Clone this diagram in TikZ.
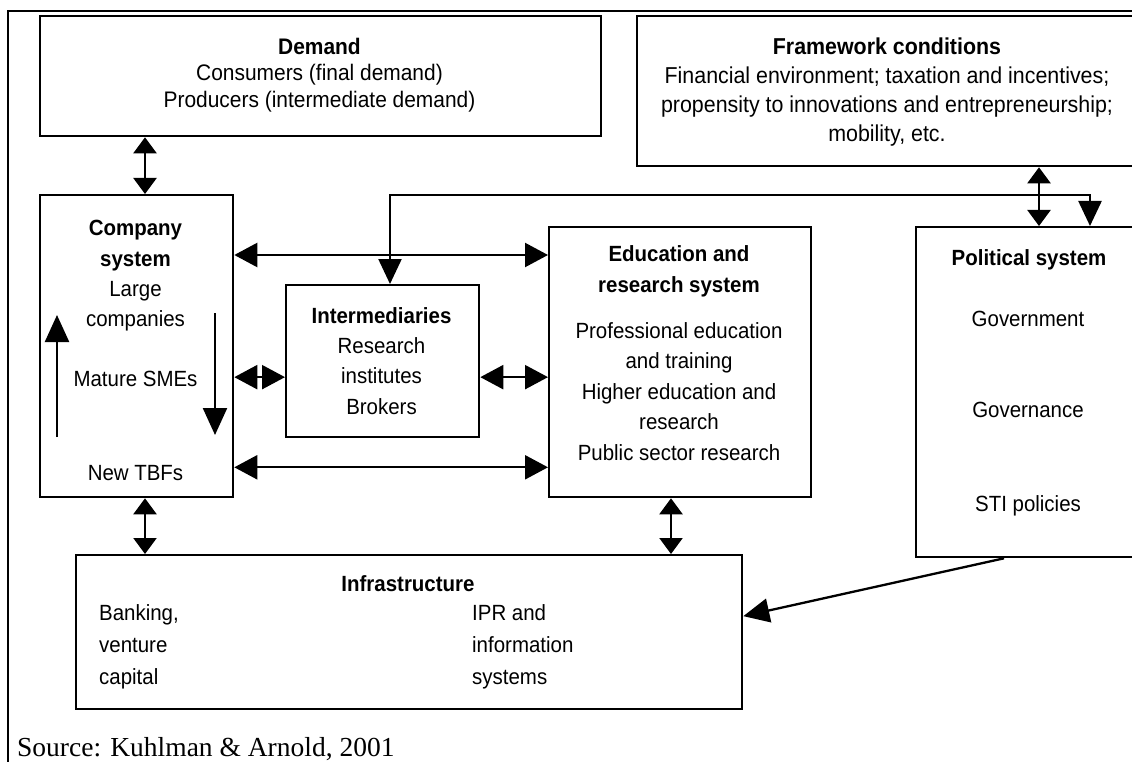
\documentclass[tikz,border=0pt]{standalone}
\usepackage{fontspec}
\setmainfont{Liberation Sans}[FakeStretch=0.93]
\newfontfamily\srcfont{Liberation Serif}
\usetikzlibrary{arrows.meta}
\begin{document}
\begin{tikzpicture}[x=1pt,y=-1pt,
  box/.style={draw, line width=2.3pt, inner sep=0pt, anchor=north west},
  txt/.style={font=\fontsize{22}{30.5}\selectfont, inner sep=0pt, anchor=base, align=center},
  ttl/.style={txt, font=\fontsize{22}{31}\selectfont\bfseries},
  conn/.style={line width=2.3pt},
  dblv/.style={conn, {Triangle[length=16pt,width=23pt]}-{Triangle[length=16pt,width=23pt]}},
  dblh/.style={conn, {Triangle[length=23pt,width=24pt]}-{Triangle[length=23pt,width=24pt]}},
  dbll/.style={conn, {Triangle[length=25pt,width=23pt]}-{Triangle[length=25pt,width=23pt]}},
  one/.style={conn, -{Triangle[length=26pt,width=24pt]}},
]
\useasboundingbox (0,0) rectangle (1132,762);
\fill[white] (0,0) rectangle (1132,762);
% frame
\draw[line width=2pt] (8,762) -- (8,11) -- (1140,11);

% boxes
\node[box, minimum width=561pt, minimum height=120pt] (demand) at (39,15) {};
\node[box, minimum width=509pt, minimum height=150pt] (fw) at (636,15) {};
\node[box, minimum width=193pt, minimum height=302pt] (company) at (39,194) {};
\node[box, minimum width=193pt, minimum height=152pt] (inter) at (285,284) {};
\node[box, minimum width=262pt, minimum height=270pt] (edu) at (548,226) {};
\node[box, minimum width=230pt, minimum height=330pt] (pol) at (915,226) {};
\node[box, minimum width=666pt, minimum height=154pt] (infra) at (75,554) {};

% texts (multi-line nodes are placed by the baseline of their last line)
\node[ttl, font=\fontsize{22.5}{31}\selectfont\bfseries] (tdem) at (319.5,55) {Demand};
\node[txt, font=\fontsize{22.5}{27}\selectfont] (ldem) at (319.5,108) {Consumers (final demand)\\Producers (intermediate demand)};
\node[ttl, font=\fontsize{23}{31}\selectfont\bfseries] (tfw) at (887,55) {Framework conditions};
\node[txt, font=\fontsize{23}{29}\selectfont] (lfw) at (887,142) {Financial environment; taxation and incentives;\\propensity to innovations and entrepreneurship;\\mobility, etc.};
\node[ttl] (tcomp) at (135.5,266) {Company\\system};
\node[txt] (lcomp1) at (135.5,326.5) {Large\\companies};
\node[txt] (lcomp2) at (135.5,386) {Mature SMEs};
\node[txt] (lcomp3) at (135.5,480) {New TBFs};
\node[ttl] (tinter) at (381.5,323) {Intermediaries};
\node[txt] (linter) at (381.5,414) {Research\\institutes\\Brokers};
\node[ttl] (tedu) at (679,292) {Education and\\research system};
\node[txt] (ledu) at (679,460) {Professional education\\and training\\Higher education and\\research\\Public sector research};
\node[ttl] (tpol) at (1029,265) {Political system};
\node[txt] (lpol1) at (1028,326) {Government};
\node[txt] (lpol2) at (1028,417) {Governance};
\node[txt] (lpol3) at (1028,511) {STI policies};
\node[ttl] (tinfra) at (408,591) {Infrastructure};
\node[txt, align=left, anchor=base west, font=\fontsize{22}{32}\selectfont] (linfa) at (99,684) {Banking,\\venture\\capital};
\node[txt, align=left, anchor=base west, font=\fontsize{22}{32}\selectfont] (linfb) at (472,684) {IPR and\\information\\systems};
\node[inner sep=0pt, anchor=base west, font=\srcfont\fontsize{27.5}{30}\selectfont] (src) at (17,756) {Source: Kuhlman \& Arnold, 2001};

% connectors
\draw[dblv] ([xshift=106pt]demand.south west) -- ([xshift=106pt]company.north west);
\draw[dblh] ([yshift=-61pt]company.north east) coordinate (c1) -- (c1 -| edu.west);
\draw[dblh] ([yshift=31pt]company.south east) coordinate (c2) -- (c2 -| edu.west);
\coordinate (ci) at ([yshift=-16pt]inter.west);
\draw[dblh] (company.east |- ci) -- (ci);
\coordinate (ce) at ([yshift=-16pt]inter.east);
\draw[dblh] (ce) -- (edu.west |- ce);
\draw[dblv] ([xshift=106pt]company.south west) coordinate (c3) -- (c3 |- infra.north);
\draw[dblv] ([xshift=123pt]edu.south west) coordinate (c4) -- (c4 |- infra.north);
\draw[dblv] ([xshift=124pt]pol.north west) coordinate (c5) -- (c5 |- fw.south);
\draw[dbll] ([xshift=105pt]inter.north west) |- ([xshift=175pt,yshift=31pt]pol.north west) -- ([xshift=175pt]pol.north west);
\draw[one] ([xshift=89pt]pol.south west) -- ([yshift=16pt]infra.east);
% arrows inside the company system
\draw[conn, -{Triangle[length=27pt,width=24pt]}] ([shift={(18,243)}]company.north west) -- ([shift={(18,121)}]company.north west);
\draw[conn, -{Triangle[length=27pt,width=24pt]}] ([shift={(176,119)}]company.north west) -- ([shift={(176,241)}]company.north west);
\end{tikzpicture}
\end{document}
